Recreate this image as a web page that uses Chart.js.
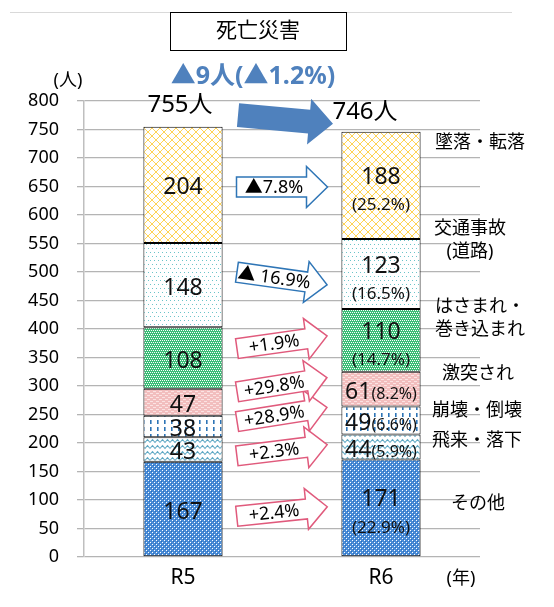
<!DOCTYPE html>
<html><head><meta charset="utf-8">
<script src="https://cdn.jsdelivr.net/npm/chart.js@4.4.1/dist/chart.umd.min.js"></script>
<style>html,body{margin:0;padding:0;background:#fff;}#wrap{width:554px;height:607px;position:relative;}</style>
</head><body><div id="wrap"><canvas id="c"></canvas></div>
<script>
// ---------- data ----------
const categories = ['R5', 'R6'];
const seriesNames = ['その他', '飛来・落下', '崩壊・倒壊', '激突され', 'はさまれ・巻き込まれ', '交通事故(道路)', '墜落・転落'];
const valuesR5 = [167, 43, 38, 47, 108, 148, 204];
const valuesR6 = [171, 44, 49, 61, 110, 123, 188];
const sharesR6 = ['22.9%', '5.9%', '6.6%', '8.2%', '14.7%', '16.5%', '25.2%'];
const changeLabels = ['+2.4%', '+2.3%', '+28.9%', '+29.8%', '+1.9%', '▲ 16.9%', '▲7.8%'];
const rightLabelLines = [['その他'], ['飛来・落下'], ['崩壊・倒壊'], ['激突され'], ['はさまれ・', '巻き込まれ'], ['交通事故', '(道路)'], ['墜落・転落']];
const totalChangeLabel = '▲9人(▲1.2%)';
const chartTitle = '死亡災害';
const yUnitLabel = '(人)';
const xUnitLabel = '(年)';
const totalSuffix = '人';
const yMin = 0, yMax = 800, yStep = 50;

// ---------- layout / style ----------
const FONT = '"Noto Sans", "Noto Sans CJK JP", sans-serif';
const PINK = '#E05A7C', BLUE = '#2E75B6';
const rightLabelAt = [93, 203, 256, 321, 418, 555, 726]; // axis units
const rightLabelX = [478, 477, 477, 478, 480, 470, 480];
const arrowCfg = [
  {color: PINK, dy: 3, angle: -6},
  {color: PINK, dy: 2, angle: -7},
  {color: PINK, dy: -9, angle: -9},
  {color: PINK, dy: -11, angle: -9},
  {color: PINK, dy: -7, angle: -8},
  {color: BLUE, dy: -1, angle: 8},
  {color: BLUE, dy: 2, angle: 0}
];

const mainCtx = document.getElementById('c').getContext('2d');
function tile(w, h, draw) {
  const c = document.createElement('canvas'); c.width = w; c.height = h;
  const g = c.getContext('2d'); draw(g, w, h);
  return mainCtx.createPattern(c, 'repeat');
}
function px(g, x, y, col) { g.fillStyle = col; g.fillRect(x, y, 1, 1); }
const patterns = [
  tile(4, 4, (g) => { g.fillStyle = '#4A8DD8'; g.fillRect(0,0,4,4); px(g,0,0,'#fff'); px(g,2,2,'#fff'); px(g,1,1,'#2F6DB8'); px(g,3,3,'#2F6DB8'); }),
  tile(10, 6, (g) => { g.fillStyle = '#fff'; g.fillRect(0,0,10,6); g.strokeStyle = '#5FA9C4'; g.lineWidth = 1.1; g.beginPath(); g.moveTo(0,4.5); g.lineTo(2.5,1.5); g.lineTo(5,4.5); g.lineTo(7.5,1.5); g.lineTo(10,4.5); g.stroke(); }),
  tile(7, 7, (g) => { g.fillStyle = '#fff'; g.fillRect(0,0,7,7); g.fillStyle = '#2E75B6'; g.fillRect(3,0,1.6,4); }),
  tile(6, 4, (g) => { g.fillStyle = '#F2BEBE'; g.fillRect(0,0,6,4); g.fillStyle = '#FBE3E3'; g.fillRect(0,1,3,1); g.fillRect(3,3,3,1); }),
  tile(4, 4, (g) => { g.fillStyle = '#3ABD76'; g.fillRect(0,0,4,4); px(g,0,0,'#fff'); px(g,2,0,'#fff'); px(g,1,2,'#fff'); px(g,3,2,'#fff'); }),
  tile(4, 8, (g) => { g.fillStyle = '#fff'; g.fillRect(0,0,4,8); px(g,0,0,'#6CC4C9'); px(g,2,4,'#6CC4C9'); }),
  tile(8, 8, (g) => { g.fillStyle = '#fff'; g.fillRect(0,0,8,8); g.strokeStyle = '#FFC828'; g.lineWidth = 0.8; g.beginPath(); g.moveTo(0,0); g.lineTo(8,8); g.moveTo(0,8); g.lineTo(8,0); g.stroke(); })
];

const datasets = seriesNames.map((name, i) => ({
  label: name,
  data: [valuesR5[i], valuesR6[i]],
  backgroundColor: patterns[i],
  borderColor: '#000',
  borderWidth: 1,
  borderSkipped: false,
  barPercentage: 0.4,
  categoryPercentage: 1.0
}));

function arrowPath(ctx, len, bodyH, headH, headL) {
  const x0 = -len / 2, x1 = len / 2 - headL, x2 = len / 2;
  ctx.beginPath();
  ctx.moveTo(x0, -bodyH / 2); ctx.lineTo(x1, -bodyH / 2); ctx.lineTo(x1, -headH / 2);
  ctx.lineTo(x2, 0); ctx.lineTo(x1, headH / 2); ctx.lineTo(x1, bodyH / 2); ctx.lineTo(x0, bodyH / 2);
  ctx.closePath();
}

const overlay = {
  id: 'overlay',
  afterDraw(chart) {
    const ctx = chart.ctx, ys = chart.scales.y;
    ctx.save();
    // top rule + title box
    ctx.strokeStyle = '#D9D9D9'; ctx.lineWidth = 1;
    ctx.beginPath(); ctx.moveTo(10, 12.5); ctx.lineTo(512, 12.5); ctx.stroke();
    ctx.strokeStyle = '#000'; ctx.lineWidth = 1;
    ctx.strokeRect(170.5, 12.5, 176, 38);
    ctx.fillStyle = '#000'; ctx.textAlign = 'center'; ctx.textBaseline = 'middle';
    ctx.font = '21px ' + FONT; ctx.fillText(chartTitle, 258, 31);
    // total change
    ctx.fillStyle = '#4F81BD'; ctx.font = 'bold 25px ' + FONT; ctx.fillText(totalChangeLabel, 253, 77);
    // unit labels
    ctx.fillStyle = '#000'; ctx.font = '18px ' + FONT;
    ctx.fillText(yUnitLabel, 68, 81);
    ctx.fillText(xUnitLabel, 461, 579);

    const metas = datasets.map((d, i) => chart.getDatasetMeta(i));
    const top0 = metas[metas.length - 1].data[0], top1 = metas[metas.length - 1].data[1];
    const tot = [valuesR5.reduce((a, b) => a + b, 0), valuesR6.reduce((a, b) => a + b, 0)];
    // totals
    ctx.font = '24px ' + FONT;
    ctx.fillText(tot[0] + totalSuffix, top0.x - 3, top0.y - 21);
    ctx.fillText(tot[1] + totalSuffix, top1.x - 16, top1.y - 20);
    // big arrow
    {
      const sx = top0.x + 55, sy = top0.y - 11.5, ex = top1.x - 48, ey = top1.y - 8;
      const len = Math.hypot(ex - sx, ey - sy), ang = Math.atan2(ey - sy, ex - sx);
      ctx.save(); ctx.translate((sx + ex) / 2, (sy + ey) / 2); ctx.rotate(ang);
      arrowPath(ctx, len, 24, 46, 24); ctx.fillStyle = '#4F81BD'; ctx.fill();
      ctx.restore();
    }
    // segment labels
    metas.forEach((m, i) => {
      const e0 = m.data[0], e1 = m.data[1];
      const mid0 = (e0.y + e0.base) / 2, mid1 = (e1.y + e1.base) / 2;
      ctx.fillStyle = '#111'; ctx.textAlign = 'center'; ctx.textBaseline = 'middle';
      ctx.font = '23px ' + FONT;
      ctx.fillText(String(valuesR5[i]), e0.x, mid0 + 3);
      const h1 = e1.base - e1.y;
      if (h1 < 45) {
        ctx.font = '23px ' + FONT; const w1 = ctx.measureText(String(valuesR6[i])).width;
        ctx.font = '16px ' + FONT; const w2 = ctx.measureText('(' + sharesR6[i] + ')').width;
        const x0 = e1.x - (w1 + w2) / 2;
        ctx.textAlign = 'left';
        ctx.font = '23px ' + FONT; ctx.fillText(String(valuesR6[i]), x0, mid1 + 3);
        ctx.font = '16px ' + FONT; ctx.fillText('(' + sharesR6[i] + ')', x0 + w1, mid1 + 5);
      } else {
        ctx.font = '23px ' + FONT; ctx.fillText(String(valuesR6[i]), e1.x, mid1 - 8);
        ctx.font = '17px ' + FONT; ctx.fillText('(' + sharesR6[i] + ')', e1.x, mid1 + 20);
      }
      // change arrows
      const cfg = arrowCfg[i];
      const cx = ((e0.x + e0.width / 2) + (e1.x - e1.width / 2)) / 2;
      const cy = (mid0 + mid1) / 2 + cfg.dy;
      ctx.save(); ctx.translate(cx, cy); ctx.rotate(cfg.angle * Math.PI / 180);
      arrowPath(ctx, 91, 20, 41, 21);
      ctx.fillStyle = '#fff'; ctx.fill(); ctx.strokeStyle = cfg.color; ctx.lineWidth = 1.5; ctx.stroke();
      ctx.fillStyle = '#000'; ctx.textAlign = 'center'; ctx.font = '18px ' + FONT;
      ctx.fillText(changeLabels[i], -8, 1);
      ctx.restore();
      // right labels
      ctx.fillStyle = '#000'; ctx.textAlign = 'center'; ctx.font = '18px ' + FONT;
      const lines = rightLabelLines[i];
      const yc = ys.getPixelForValue(rightLabelAt[i]);
      lines.forEach((t, k) => ctx.fillText(t, rightLabelX[i], yc + (k - (lines.length - 1) / 2) * 23));
    });
    ctx.restore();
  }
};

new Chart(document.getElementById('c'), {
  type: 'bar',
  data: { labels: categories, datasets },
  options: {
    responsive: true, maintainAspectRatio: false, animation: false,
    layout: { padding: { top: 101, right: 74, left: 0, bottom: 0 } },
    plugins: { legend: { display: false }, tooltip: { enabled: false } },
    scales: {
      x: {
        stacked: true,
        grid: { display: false, drawTicks: false },
        border: { display: false },
        ticks: { color: '#000', font: { family: FONT, size: 21 }, padding: 8 },
        afterFit: (s) => { s.height = 50; }
      },
      y: {
        stacked: true, min: yMin, max: yMax,
        ticks: { stepSize: yStep, color: '#000', font: { family: FONT, size: 18 }, padding: 18 },
        grid: { color: '#B4B4B4', lineWidth: 1.3, tickLength: 7 },
        border: { display: true, color: '#BFBFBF', width: 1.5 },
        afterFit: (s) => { s.width = 84; }
      }
    }
  },
  plugins: [overlay]
});
</script></body></html>
